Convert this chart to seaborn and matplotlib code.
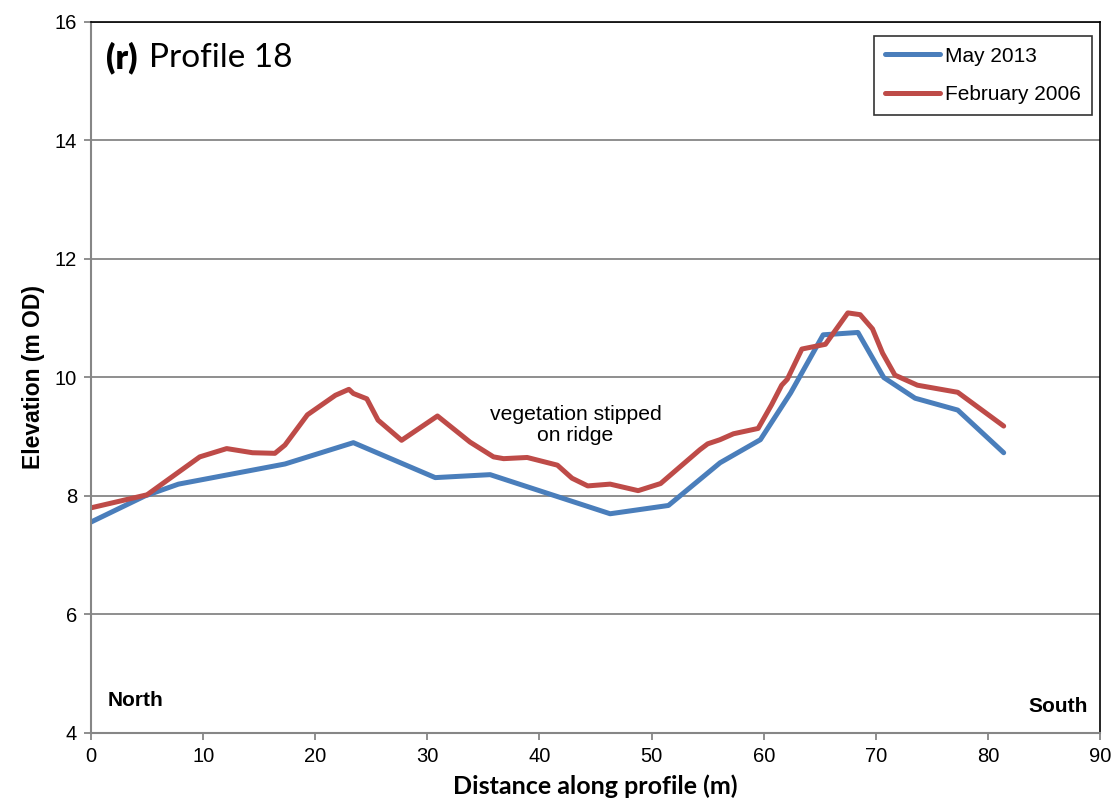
import pandas as pd
import seaborn as sns
import matplotlib.pyplot as plt

# Profile data
may_dist = [0, 4.8, 7.8, 17.3, 23.4, 30.7, 35.6, 46.3, 51.5, 56.1, 59.7, 62.4,
            65.3, 68.4, 70.7, 73.5, 77.3, 81.4]
may_elev = [7.56, 8.0, 8.2, 8.54, 8.9, 8.31, 8.36, 7.7, 7.84, 8.56, 8.95, 9.74,
            10.72, 10.76, 10.0, 9.65, 9.45, 8.73]

feb_dist = [0, 5.0, 7.2, 9.7, 12.1, 14.4, 16.4, 17.3, 19.3, 21.8, 23.0, 23.4,
            24.6, 25.6, 27.7, 30.9, 33.8, 35.9, 36.8, 38.9, 41.6, 42.9, 44.3,
            46.3, 48.8, 50.8, 54.3, 55.0, 56.1, 57.3, 59.5, 60.7, 61.6, 62.1,
            63.4, 65.5, 67.5, 68.6, 69.7, 70.6, 71.7, 73.7, 77.3, 81.4]
feb_elev = [7.8, 8.02, 8.32, 8.66, 8.8, 8.73, 8.72, 8.86, 9.37, 9.7, 9.8, 9.73,
            9.64, 9.28, 8.94, 9.35, 8.91, 8.66, 8.63, 8.65, 8.52, 8.3, 8.17,
            8.2, 8.09, 8.21, 8.78, 8.88, 8.95, 9.05, 9.14, 9.54, 9.87, 9.97,
            10.48, 10.56, 11.09, 11.06, 10.82, 10.41, 10.04, 9.87, 9.75, 9.18]

series = ["May 2013", "February 2006"]
colors = ["#4A7EBB", "#BE4B48"]

df = pd.concat([
    pd.DataFrame({"dist": may_dist, "elev": may_elev, "survey": series[0]}),
    pd.DataFrame({"dist": feb_dist, "elev": feb_elev, "survey": series[1]}),
])

sns.set_style("white")
plt.rcParams["font.family"] = ["Liberation Sans", "DejaVu Sans"]
plt.rcParams["text.color"] = "black"
plt.rcParams["axes.labelcolor"] = "black"
plt.rcParams["xtick.color"] = "black"
plt.rcParams["ytick.color"] = "black"

fig = plt.figure(figsize=(11.18, 8.11), dpi=100)
ax = fig.add_axes([0.0814, 0.0962, 0.9026, 0.8767])

sns.lineplot(data=df, x="dist", y="elev", hue="survey", palette=colors,
             hue_order=series, sort=False, estimator=None, linewidth=3.6,
             ax=ax)

ax.set_xlim(0, 90)
ax.set_ylim(4, 16)
ax.set_xticks(range(0, 91, 10))
ax.set_yticks(range(4, 17, 2))
ax.grid(axis="y", color="#868686", linewidth=1.3)
ax.set_axisbelow(True)

for side in ["left", "bottom"]:
    ax.spines[side].set_color("#868686")
    ax.spines[side].set_linewidth(1.5)
for side in ["top", "right"]:
    ax.spines[side].set_color("black")
    ax.spines[side].set_linewidth(1.2)
    ax.spines[side].set_visible(True)

ax.tick_params(axis="both", direction="out", length=5, width=1.3,
               color="#868686", labelcolor="black", labelsize=14.5, pad=5)
ax.tick_params(axis="x", bottom=True)
ax.tick_params(axis="y", left=True)

ax.set_xlabel("Distance along profile (m)", fontsize=18, fontweight="bold",
              family="Lato", labelpad=6)
ax.set_ylabel("Elevation (m OD)", fontsize=16.5, fontweight="bold",
              labelpad=7)

ax.text(1.3, 15.4, "(r)", fontsize=24, fontweight="heavy", family="Lato",
        va="center", ha="left")
ax.text(5.2, 15.4, "Profile 18", fontsize=24, family="Lato",
        va="center", ha="left")
ax.text(43.2, 9.2, "vegetation stipped\non ridge", fontsize=15.2,
        ha="center", va="center", linespacing=1.15)
ax.text(1.5, 4.55, "North", fontsize=15, fontweight="bold", ha="left",
        va="center")
ax.text(88.9, 4.45, "South", fontsize=15, fontweight="bold", ha="right",
        va="center")

leg = ax.legend(loc="upper right", bbox_to_anchor=(0.9915, 0.98),
                fontsize=15, frameon=True, fancybox=False, handlelength=2.65,
                handletextpad=0.25, borderpad=0.5, labelspacing=0.95,
                borderaxespad=0)
leg.get_frame().set_edgecolor("black")
leg.get_frame().set_linewidth(1.2)
leg.set_title(None)

fig.savefig("out.png", dpi=100)
